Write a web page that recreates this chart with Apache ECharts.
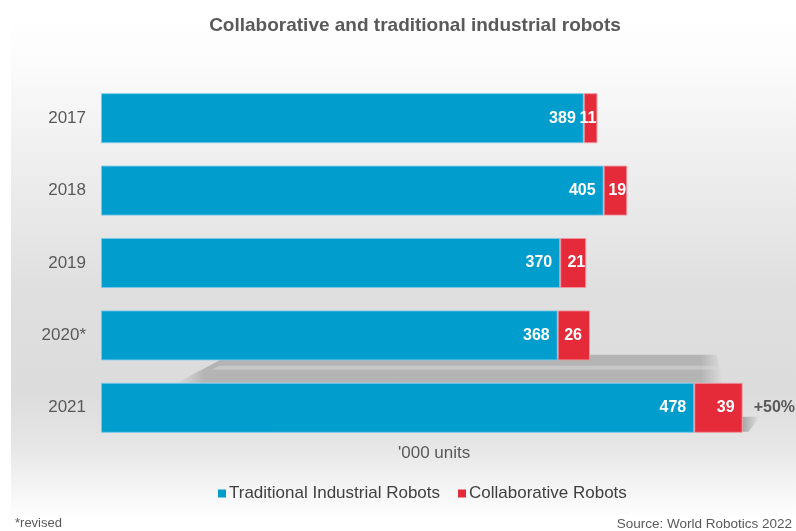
<!DOCTYPE html>
<html>
<head>
<meta charset="utf-8">
<script src="https://cdn.jsdelivr.net/npm/echarts@6/dist/echarts.min.js"></script>
<style>
  html, body { margin: 0; padding: 0; background: #ffffff; }
  #chart { width: 796px; height: 531px; }
</style>
</head>
<body>
<div id="chart"></div>
<script>
// Installations per year, thousand units
const years = ['2017', '2018', '2019', '2020*', '2021'];
const traditional = [389, 405, 370, 368, 478];
const collaborative = [11, 19, 21, 26, 39];
const growthNotes = ['', '', '', '', '+50%'];

const seriesNames = ['Traditional Industrial Robots', 'Collaborative Robots'];
const FONT = '"Liberation Sans", Arial, sans-serif';
const TEXT = '#595959';

// Cast shadow drawn behind the most recent year's bar
const lastIdx = years.length - 1;
const shadowData = [[traditional[lastIdx] + collaborative[lastIdx], lastIdx]];

const chart = echarts.init(document.getElementById('chart'), null, { renderer: 'canvas' });

chart.setOption({
  animation: false,
  backgroundColor: '#ffffff',
  textStyle: { fontFamily: FONT },
  graphic: [{
    type: 'rect',
    z: -10,
    shape: { x: 11, y: 16, width: 785, height: 500 },
    style: {
      fill: {
        type: 'linear', x: 0, y: 0, x2: 0, y2: 1,
        colorStops: [
          { offset: 0, color: '#ffffff' },
          { offset: 0.1, color: '#fbfbfb' },
          { offset: 0.25, color: '#f1f1f1' },
          { offset: 0.55, color: '#dfdfdf' },
          { offset: 0.75, color: '#dcdcdc' },
          { offset: 0.86, color: '#e6e6e6' },
          { offset: 0.93, color: '#f2f2f2' },
          { offset: 1, color: '#fefefe' }
        ]
      }
    }
  }, {
    type: 'text',
    left: 15, top: 517,
    style: { text: '*revised', fill: TEXT, font: '13px ' + FONT }
  }, {
    type: 'text',
    right: 4, top: 517,
    style: { text: 'Source: World Robotics 2022', fill: TEXT, font: '13.5px ' + FONT }
  }, {
    type: 'text',
    left: 398, top: 445,
    style: { text: "'000 units", fill: TEXT, font: '17px ' + FONT }
  }],
  title: {
    text: 'Collaborative and traditional industrial robots',
    left: 410, textAlign: 'center', top: 11,
    textStyle: { fontFamily: FONT, fontSize: 19, fontWeight: 'bold', color: TEXT }
  },
  legend: {
    data: seriesNames,
    top: 480, left: 213,
    icon: 'rect', itemWidth: 8, itemHeight: 8, itemGap: 18,
    itemStyle: { borderWidth: 0 },
    textStyle: { fontFamily: FONT, fontSize: 17, color: '#404040', padding: [0, 0, 0, -2] }
  },
  grid: { left: 101, top: 82, width: 695, height: 362, containLabel: false },
  xAxis: {
    type: 'value', min: 0, max: 560, show: false
  },
  yAxis: {
    type: 'category', data: years, inverse: true,
    axisLine: { show: false }, axisTick: { show: false },
    axisLabel: { color: TEXT, fontSize: 17, fontFamily: FONT, margin: 15 }
  },
  series: [{
    type: 'custom',
    z: 1,
    silent: true,
    data: shadowData,
    encode: { x: 0, y: 1 },
    renderItem: function (params, api) {
      const start = api.coord([0, api.value(1)]);
      const end = api.coord([api.value(0), api.value(1)]);
      const half = api.size([0, 1])[1] * 0.69 / 2;
      const top = start[1] - half;
      const bottom = start[1] + half;
      const x0 = start[0], xe = end[0];
      return {
        type: 'group',
        children: [{
          type: 'polygon',
          shape: { points: [[x0 + 76, top], [x0 + 129, top - 28], [xe - 26, top - 28], [xe - 20, top]] },
          style: {
            fill: {
              type: 'linear', x: 0, y: 0, x2: 1, y2: 0,
              colorStops: [
                { offset: 0, color: 'rgba(178,178,178,0)' },
                { offset: 0.05, color: 'rgba(178,178,178,0.95)' },
                { offset: 0.96, color: 'rgba(178,178,178,0.95)' },
                { offset: 1, color: 'rgba(178,178,178,0)' }
              ]
            }
          }
        }, {
          type: 'polygon',
          shape: { points: [[x0 + 110, top - 13], [x0 + 118, top - 17], [xe - 24, top - 17], [xe - 23, top - 13]] },
          style: { fill: 'rgba(215,215,215,0.55)' }
        }, {
          type: 'polygon',
          shape: { points: [[xe, bottom - 16], [xe + 17, bottom - 16], [xe + 6, bottom - 1], [xe, bottom - 1]] },
          style: {
            fill: {
              type: 'linear', x: 0, y: 0, x2: 1, y2: 0,
              colorStops: [
                { offset: 0, color: 'rgba(160,160,160,0.9)' },
                { offset: 1, color: 'rgba(160,160,160,0)' }
              ]
            }
          }
        }]
      };
    }
  }, {
    name: seriesNames[0],
    type: 'bar', stack: 'total', z: 2,
    barWidth: 50,
    data: traditional,
    itemStyle: { color: '#019dcc', borderColor: 'rgba(120,200,235,0.9)', borderWidth: 1 },
    label: {
      show: true, position: 'insideRight', distance: 8,
      color: '#ffffff', fontWeight: 'bold', fontSize: 16, fontFamily: FONT
    }
  }, {
    name: seriesNames[1],
    type: 'bar', stack: 'total', z: 2,
    barWidth: 50,
    data: collaborative.map(function (v) {
      // narrow segments keep their label tight against the end
      return { value: v, label: { distance: v < 25 ? 1 : 8 } };
    }),
    itemStyle: { color: '#e52a3a', borderColor: 'rgba(240,150,160,0.9)', borderWidth: 1 },
    label: {
      show: true, position: 'insideRight', distance: 8,
      color: '#ffffff', fontWeight: 'bold', fontSize: 16, fontFamily: FONT
    }
  }, {
    name: 'growth',
    type: 'bar', stack: 'total', z: 2,
    barWidth: 50,
    data: growthNotes.map(function () { return 0; }),
    itemStyle: { color: 'transparent' },
    label: {
      show: true, position: 'right', distance: 11,
      formatter: function (p) { return growthNotes[p.dataIndex]; },
      color: TEXT, fontWeight: 'bold', fontSize: 16, fontFamily: FONT
    }
  }]
});
</script>
</body>
</html>
